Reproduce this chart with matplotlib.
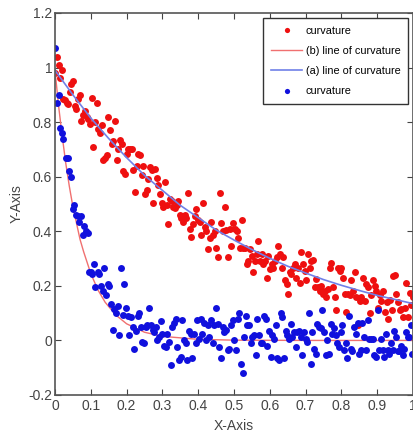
import matplotlib
matplotlib.use('Agg')
import matplotlib.pyplot as plt

# red scatter (slow decay)
red_x = [0.0, 0.005, 0.01, 0.02, 0.014, 0.023, 0.028, 0.033, 0.037, 0.042, 0.046, 0.051, 0.056, 0.06, 0.065,
         0.07, 0.074, 0.079, 0.084, 0.088, 0.093, 0.098, 0.102, 0.107, 0.112, 0.116, 0.121, 0.126, 0.13, 0.135,
         0.14, 0.144, 0.149, 0.153, 0.158, 0.163, 0.167, 0.172, 0.177, 0.181, 0.186, 0.191, 0.195, 0.2, 0.205,
         0.209, 0.214, 0.219, 0.223, 0.228, 0.233, 0.237, 0.242, 0.247, 0.251, 0.256, 0.26, 0.265, 0.27, 0.274,
         0.279, 0.284, 0.288, 0.293, 0.298, 0.302, 0.307, 0.312, 0.316, 0.321, 0.326, 0.33, 0.335, 0.34, 0.344,
         0.349, 0.353, 0.358, 0.363, 0.367, 0.372, 0.377, 0.381, 0.386, 0.391, 0.395, 0.4, 0.405, 0.409, 0.414,
         0.419, 0.423, 0.428, 0.433, 0.437, 0.442, 0.447, 0.451, 0.456, 0.46, 0.465, 0.47, 0.474, 0.479, 0.484,
         0.488, 0.493, 0.498, 0.502, 0.507, 0.512, 0.516, 0.521, 0.526, 0.53, 0.535, 0.54, 0.544, 0.549, 0.553,
         0.558, 0.563, 0.567, 0.572, 0.577, 0.581, 0.586, 0.591, 0.595, 0.6, 0.605, 0.609, 0.614, 0.619, 0.623,
         0.628, 0.633, 0.637, 0.642, 0.647, 0.651, 0.656, 0.66, 0.665, 0.67, 0.674, 0.679, 0.684, 0.688, 0.693,
         0.698, 0.702, 0.707, 0.712, 0.716, 0.721, 0.726, 0.73, 0.735, 0.74, 0.744, 0.749, 0.753, 0.758, 0.763,
         0.767, 0.772, 0.777, 0.781, 0.786, 0.791, 0.795, 0.8, 0.805, 0.809, 0.814, 0.819, 0.823, 0.828, 0.833,
         0.837, 0.842, 0.847, 0.851, 0.856, 0.86, 0.865, 0.87, 0.874, 0.879, 0.884, 0.888, 0.893, 0.898, 0.902,
         0.907, 0.912, 0.916, 0.921, 0.926, 0.93, 0.935, 0.94, 0.944, 0.949, 0.953, 0.958, 0.963, 0.967, 0.972,
         0.977, 0.981, 0.986, 0.991, 0.995, 1.0]
red_y = [0.98, 1.04, 1.01, 0.99, 0.96, 0.885, 0.88, 0.87, 0.865, 0.91, 0.94, 0.95, 0.86, 0.85, 0.885,
         0.9, 0.805, 0.825, 0.84, 0.82, 0.81, 0.795, 0.89, 0.71, 0.8, 0.87, 0.775, 0.76, 0.79, 0.66,
         0.67, 0.68, 0.82, 0.77, 0.72, 0.73, 0.805, 0.66, 0.7, 0.735, 0.72, 0.62, 0.61, 0.685, 0.7,
         0.7, 0.7, 0.625, 0.545, 0.64, 0.685, 0.68, 0.605, 0.64, 0.535, 0.55, 0.59, 0.635, 0.625, 0.505,
         0.63, 0.595, 0.57, 0.535, 0.505, 0.49, 0.58, 0.495, 0.425, 0.52, 0.51, 0.49, 0.485, 0.495, 0.51,
         0.46, 0.45, 0.435, 0.46, 0.45, 0.54, 0.41, 0.38, 0.425, 0.455, 0.48, 0.44, 0.435, 0.385, 0.505,
         0.415, 0.4, 0.335, 0.375, 0.435, 0.385, 0.4, 0.34, 0.305, 0.54, 0.43, 0.4, 0.49, 0.405, 0.305,
         0.41, 0.345, 0.43, 0.41, 0.4, 0.375, 0.34, 0.44, 0.34, 0.34, 0.28, 0.29, 0.335, 0.31, 0.25,
         0.29, 0.315, 0.365, 0.29, 0.315, 0.28, 0.29, 0.23, 0.31, 0.26, 0.28, 0.265, 0.29, 0.305, 0.345,
         0.315, 0.265, 0.305, 0.22, 0.205, 0.17, 0.25, 0.245, 0.265, 0.28, 0.23, 0.265, 0.21, 0.325, 0.28,
         0.255, 0.22, 0.315, 0.265, 0.29, 0.295, 0.195, 0.225, 0.195, 0.18, 0.2, 0.17, 0.18, 0.16, 0.19,
         0.265, 0.285, 0.195, 0.16, 0.11, 0.265, 0.255, 0.265, 0.23, 0.17, 0.105, 0.17, 0.165, 0.22, 0.18,
         0.25, 0.16, 0.055, 0.145, 0.16, 0.23, 0.145, 0.205, 0.195, 0.1, 0.165, 0.22, 0.2, 0.18, 0.12,
         0.165, 0.145, 0.18, 0.105, 0.14, 0.08, 0.15, 0.11, 0.235, 0.24, 0.17, 0.14, 0.11, 0.115, 0.085,
         0.12, 0.21, 0.085, 0.175, 0.13, 0.16]

# blue scatter (fast decay)
blue_x = [0.0, 0.005, 0.01, 0.014, 0.019, 0.023, 0.03, 0.035, 0.039, 0.044, 0.049, 0.053, 0.059, 0.063, 0.068,
          0.073, 0.077, 0.082, 0.087, 0.091, 0.096, 0.1, 0.104, 0.11, 0.113, 0.119, 0.123, 0.128, 0.133, 0.138,
          0.142, 0.147, 0.152, 0.156, 0.161, 0.166, 0.17, 0.175, 0.18, 0.184, 0.189, 0.194, 0.198, 0.203, 0.207,
          0.212, 0.217, 0.221, 0.226, 0.231, 0.235, 0.24, 0.244, 0.249, 0.254, 0.258, 0.263, 0.268, 0.273, 0.277,
          0.282, 0.286, 0.291, 0.296, 0.3, 0.305, 0.31, 0.314, 0.319, 0.324, 0.328, 0.333, 0.337, 0.342, 0.347,
          0.351, 0.356, 0.36, 0.365, 0.37, 0.375, 0.379, 0.384, 0.389, 0.393, 0.398, 0.403, 0.407, 0.412, 0.417,
          0.421, 0.426, 0.431, 0.435, 0.44, 0.445, 0.449, 0.454, 0.459, 0.463, 0.468, 0.473, 0.477, 0.482, 0.487,
          0.491, 0.496, 0.5, 0.505, 0.51, 0.514, 0.519, 0.524, 0.528, 0.533, 0.537, 0.542, 0.547, 0.551, 0.556,
          0.561, 0.565, 0.57, 0.575, 0.579, 0.584, 0.589, 0.593, 0.598, 0.603, 0.607, 0.612, 0.617, 0.621, 0.626,
          0.63, 0.635, 0.64, 0.644, 0.649, 0.654, 0.658, 0.663, 0.668, 0.672, 0.677, 0.682, 0.686, 0.691, 0.696,
          0.7, 0.705, 0.709, 0.714, 0.719, 0.723, 0.728, 0.733, 0.737, 0.742, 0.747, 0.751, 0.756, 0.761, 0.765,
          0.77, 0.775, 0.78, 0.784, 0.789, 0.793, 0.798, 0.803, 0.808, 0.812, 0.817, 0.821, 0.826, 0.831, 0.835,
          0.84, 0.845, 0.849, 0.854, 0.858, 0.863, 0.868, 0.873, 0.877, 0.882, 0.887, 0.891, 0.896, 0.901, 0.905,
          0.91, 0.915, 0.919, 0.924, 0.929, 0.933, 0.938, 0.943, 0.947, 0.952, 0.957, 0.961, 0.966, 0.971, 0.975,
          0.98, 0.985, 0.989, 0.994, 0.998]
blue_y = [1.07, 0.87, 0.9, 0.78, 0.76, 0.74, 0.67, 0.67, 0.62, 0.6, 0.48, 0.495, 0.46, 0.455, 0.435,
          0.455, 0.385, 0.42, 0.4, 0.395, 0.25, 0.25, 0.245, 0.28, 0.195, 0.25, 0.245, 0.2, 0.18, 0.265,
          0.165, 0.205, 0.2, 0.135, 0.04, 0.115, 0.1, 0.125, 0.02, 0.265, 0.095, 0.205, 0.12, 0.09, 0.02,
          0.085, 0.05, -0.03, 0.035, 0.09, 0.1, 0.05, -0.005, -0.01, 0.05, 0.055, 0.12, 0.055, 0.04, 0.03,
          0.05, 0.0, 0.012, 0.07, 0.025, -0.02, -0.025, 0.025, -0.005, -0.09, 0.05, 0.065, 0.08, -0.025, -0.07,
          -0.06, 0.075, 0.0, -0.01, -0.07, 0.035, 0.025, -0.065, 0.025, -0.01, 0.075, 0.005, 0.08, 0.025, 0.065,
          0.0, 0.055, 0.012, 0.075, -0.01, 0.055, 0.12, 0.06, -0.025, -0.065, 0.05, 0.03, 0.037, -0.035, -0.03,
          0.055, 0.075, 0.0, -0.035, 0.08, 0.1, -0.085, -0.12, 0.012, 0.09, 0.055, 0.055, -0.01, 0.012, 0.02,
          -0.055, 0.08, 0.02, -0.01, -0.01, 0.09, 0.08, -0.02, 0.035, -0.06, 0.02, 0.005, 0.055, -0.065, -0.07,
          0.1, 0.085, -0.065, 0.035, 0.02, 0.005, 0.06, 0.012, 0.03, -0.025, 0.03, 0.035, 0.012, -0.055, 0.03,
          0.005, -0.005, 0.1, -0.085, 0.03, -0.03, -0.05, 0.06, 0.05, 0.045, 0.11, 0.03, -0.055, 0.0, -0.05,
          0.06, 0.025, 0.045, 0.02, -0.01, -0.025, 0.03, 0.055, -0.035, -0.01, -0.065, 0.09, -0.03, -0.04, 0.05,
          0.025, 0.065, -0.05, -0.035, 0.065, 0.012, -0.035, 0.075, 0.005, 0.005, 0.005, -0.055, -0.06, 0.11, -0.035,
          0.005, -0.035, -0.06, 0.025, -0.035, -0.05, -0.01, -0.035, 0.035, 0.012, -0.04, -0.04, -0.02, -0.055, -0.03,
          0.03, 0.012, 0.012, 0.055, -0.05]

# fitted lines
line_b_x = [0.0, 0.01, 0.02, 0.03, 0.04, 0.05, 0.06, 0.07, 0.08, 0.09, 0.1, 0.12, 0.14, 0.17, 0.2, 0.25, 0.3, 0.4, 0.5, 0.7, 1.0]
line_b_y = [0.99, 0.86, 0.75, 0.65, 0.565, 0.49, 0.43, 0.37, 0.325, 0.285, 0.245, 0.185, 0.14, 0.093, 0.061, 0.03, 0.015, 0.004, 0.001, 0.0, 0.0]
line_a_x = [0.0, 0.05, 0.1, 0.15, 0.2, 0.25, 0.3, 0.35, 0.4, 0.45, 0.5, 0.55, 0.6, 0.65, 0.7, 0.75, 0.8, 0.85, 0.9, 0.95, 1.0]
line_a_y = [0.99, 0.9, 0.815, 0.74, 0.67, 0.605, 0.55, 0.495, 0.45, 0.405, 0.368, 0.333, 0.301, 0.272, 0.247, 0.223, 0.202, 0.183, 0.165, 0.15, 0.135]

plt.rcParams['font.family'] = ['Liberation Sans', 'DejaVu Sans']

fig = plt.figure(figsize=(4.14, 4.34), dpi=100)
ax = fig.add_axes([55 / 414, 39 / 434, 358 / 414, 382 / 434])

ax.plot(red_x, red_y, 'o', color='#ee1010', ms=5, mec='none', label='curvature')
ax.plot(line_b_x, line_b_y, '-', color='#f07070', lw=1, label='(b) line of curvature')
ax.plot(line_a_x, line_a_y, '-', color='#7080e8', lw=1.2, label='(a) line of curvature')
ax.plot(blue_x, blue_y, 'o', color='#1010dd', ms=5, mec='none', label='curvature')

ax.set_xlim(0, 1)
ax.set_ylim(-0.2, 1.2)
ax.set_xticks([0, 0.1, 0.2, 0.3, 0.4, 0.5, 0.6, 0.7, 0.8, 0.9, 1])
ax.set_xticklabels(['0', '0.1', '0.2', '0.3', '0.4', '0.5', '0.6', '0.7', '0.8', '0.9', '1'])
ax.set_yticks([-0.2, 0, 0.2, 0.4, 0.6, 0.8, 1, 1.2])
ax.set_yticklabels(['-0.2', '0', '0.2', '0.4', '0.6', '0.8', '1', '1.2'])
ax.tick_params(direction='in', top=True, right=True, length=4, labelsize=10, colors='#444444', pad=3)
ax.tick_params(axis='y', pad=2)
for s in ax.spines.values():
    s.set_color('#555555')
    s.set_linewidth(1.2)

ax.set_xlabel('X-Axis', fontsize=10, color='#444444', labelpad=4)
ax.set_ylabel('Y-Axis', fontsize=10, color='#444444', labelpad=3)

leg = ax.legend(loc='upper right', bbox_to_anchor=(408 / 414, 1 - 18 / 434), bbox_transform=fig.transFigure,
                borderaxespad=0, fontsize=7.8, fancybox=False, framealpha=1, edgecolor='#333333',
                handlelength=2.9, handletextpad=0.3, labelspacing=0.95, borderpad=0.7, markerscale=0.75)
leg.get_frame().set_linewidth(1)

fig.savefig('out.png', dpi=100)
